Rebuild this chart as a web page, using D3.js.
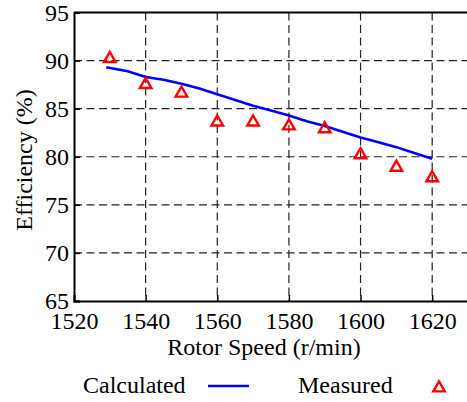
<!DOCTYPE html>
<html>
<head>
<meta charset="utf-8">
<script src="https://cdn.jsdelivr.net/npm/d3@7"></script>
<style>
  html, body { margin: 0; padding: 0; background: #fff; }
  svg { display: block; }
</style>
</head>
<body>
<svg id="chart" width="467" height="402"></svg>
<script>
// Calculated efficiency curve (rotor speed in r/min, efficiency in %)
const calcSpeed = [1529, 1535, 1540, 1545, 1550, 1555, 1560, 1565, 1570, 1575, 1580, 1585, 1590, 1595, 1600, 1605, 1610, 1615, 1620];
const calcEff   = [89.3, 88.9, 88.3, 88.0, 87.6, 87.1, 86.5, 85.9, 85.3, 84.8, 84.3, 83.7, 83.2, 82.6, 82.0, 81.5, 81.0, 80.4, 79.8];

// Measured efficiency points
const measSpeed = [1530, 1540, 1550, 1560, 1570, 1580, 1590, 1600, 1610, 1620];
const measEff   = [90.3, 87.6, 86.7, 83.7, 83.7, 83.3, 83.0, 80.3, 79.0, 77.9];

// Axis ticks
const xTicks = [1520, 1540, 1560, 1580, 1600, 1620];
const yTicks = [65, 70, 75, 80, 85, 90, 95];

const FONT = "'Liberation Serif', Tinos, 'Times New Roman', 'DejaVu Serif', serif";
const FS = "24px";

const svg = d3.select("#chart");
const plotLeft = 74, plotRight = 468, plotTop = 12.5, plotBottom = 301;

const x = d3.scaleLinear().domain([1520, 1630]).range([plotLeft, plotRight]);
const y = d3.scaleLinear().domain([65, 95]).range([plotBottom, plotTop]);

// Dashed grid
const grid = svg.append("g")
  .attr("stroke", "#222").attr("stroke-width", 1.2).attr("stroke-dasharray", "8,4.5");
grid.selectAll("line.v").data(xTicks.slice(1)).join("line")
  .attr("x1", d => x(d)).attr("x2", d => x(d))
  .attr("y1", plotTop).attr("y2", plotBottom);
grid.selectAll("line.h").data(yTicks.slice(1, -1)).join("line")
  .attr("y1", d => y(d)).attr("y2", d => y(d))
  .attr("x1", plotLeft).attr("x2", plotRight);

// Axes with inward ticks
const xAxis = svg.append("g")
  .attr("transform", `translate(0,${plotBottom})`)
  .call(d3.axisBottom(x).tickValues(xTicks).tickSize(-6).tickPadding(11).tickFormat(d3.format("d")));
const yAxis = svg.append("g")
  .attr("transform", `translate(${plotLeft},0)`)
  .call(d3.axisLeft(y).tickValues(yTicks).tickSize(-6).tickPadding(5));

[xAxis, yAxis].forEach(a => {
  a.attr("font-family", FONT).attr("font-size", 24);
  a.select(".domain").attr("stroke", "#000").attr("stroke-width", 2);
  a.selectAll(".tick line").attr("stroke", "#000").attr("stroke-width", 1.5);
  a.selectAll(".tick text").attr("fill", "#000").style("font-family", FONT).style("font-size", FS);
});

// Top frame line
svg.append("line")
  .attr("x1", plotLeft).attr("x2", plotRight)
  .attr("y1", plotTop).attr("y2", plotTop)
  .attr("stroke", "#000").attr("stroke-width", 2);

// Calculated curve
const line = d3.line()
  .x((d, i) => x(calcSpeed[i]))
  .y(d => y(d));
svg.append("path")
  .datum(calcEff)
  .attr("d", line)
  .attr("fill", "none")
  .attr("stroke", "#0000ff")
  .attr("stroke-width", 2.6);

// Measured triangles
const tri = d3.symbol().type(d3.symbolTriangle).size(58);
svg.append("g").selectAll("path").data(measEff).join("path")
  .attr("d", tri)
  .attr("transform", (d, i) => `translate(${x(measSpeed[i])},${y(d) + 1})`)
  .attr("fill", "none")
  .attr("stroke", "#ff0000")
  .attr("stroke-width", 2.4);

function label(sel) {
  return sel.style("font-family", FONT).style("font-size", FS).attr("fill", "#000");
}

// Axis titles
label(svg.append("text"))
  .attr("x", 264).attr("y", 355)
  .attr("text-anchor", "middle")
  .text("Rotor Speed (r/min)");
label(svg.append("text"))
  .attr("transform", "translate(32,160) rotate(-90)")
  .attr("text-anchor", "middle")
  .text("Efficiency (%)");

// Legend
label(svg.append("text")).attr("x", 83).attr("y", 393).text("Calculated");
svg.append("line")
  .attr("x1", 208).attr("x2", 249).attr("y1", 386).attr("y2", 386)
  .attr("stroke", "#0000ff").attr("stroke-width", 2.6);
label(svg.append("text")).attr("x", 298).attr("y", 393).text("Measured");
svg.append("path")
  .attr("d", tri)
  .attr("transform", "translate(439,388)")
  .attr("fill", "none").attr("stroke", "#ff0000").attr("stroke-width", 2.4);
</script>
</body>
</html>
